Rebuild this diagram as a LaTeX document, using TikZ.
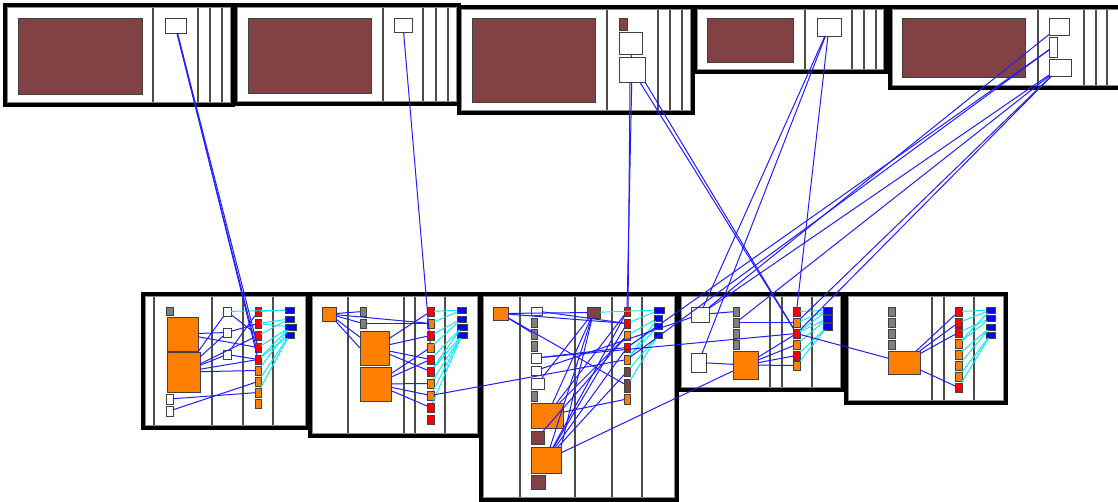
\documentclass[tikz,border=0pt]{standalone}
\definecolor{cBr}{RGB}{128,66,66}
\definecolor{cO}{RGB}{255,128,0}
\definecolor{cR}{RGB}{255,0,0}
\definecolor{cG}{RGB}{128,128,128}
\definecolor{cB}{RGB}{0,0,255}
\definecolor{lnB}{RGB}{30,30,255}
\definecolor{lnC}{RGB}{0,235,255}
\newcommand\mkbox[6]{\node[#6, minimum width={(#4-#2)*0.75pt}, minimum height={(#5-#3)*0.75pt}] (#1) at ({(#2+#4)/2},{(#3+#5)/2}) {};}
\newcommand\mkpanel[5]{%
  \fill[white] (#1,#2) rectangle (#3,#4);
  \foreach \vx in {#5} {\draw[sepline] (\vx,#2) -- (\vx,#4);}
  \draw[inr] (#1+2.6,#2+2.6) rectangle (#3-2.6,#4-2.6);
  \draw[pnl] (#1,#2) rectangle (#3,#4);}
\begin{document}
\begin{tikzpicture}[x=0.75pt,y=-0.75pt,
  pnl/.style={draw=black,line width=2.4pt},
  inr/.style={draw=black!45,line width=0.6pt},
  sepline/.style={draw=black!70,line width=0.85pt},
  itm/.style={draw=black!75,line width=0.7pt,inner sep=0pt,outer sep=0pt,rectangle},
  bl/.style={draw=lnB,line width=0.75pt},
  cy/.style={draw=lnC,line width=0.7pt}]
\useasboundingbox (0,0) rectangle (1118,502);
\fill[white] (0,0) rectangle (1118,502);
% ---------- top panels
\mkpanel{5}{5}{233}{105}{153,198,210,222}
\mkpanel{235}{5}{459}{104}{383,423,436,448}
\mkpanel{459}{7}{693}{113}{607,658,670,682}
\mkpanel{695}{7}{886}{72}{805,852,864,876}
\mkpanel{890}{7}{1124}{88}{1038,1084,1096,1107}
% ---------- bottom panels
\mkpanel{143}{294}{308}{428}{154,212,243,273}
\mkpanel{310}{294}{480}{436}{348,404,415,445}
\mkpanel{481}{294}{677}{500}{520,575,612,642}
\mkpanel{679}{294}{843}{390}{770,782,812}
\mkpanel{846}{294}{1006}{403}{932,944,974}
% ---------- top items
\mkbox{P1br}{18}{18}{142}{94}{itm,fill=cBr}
\mkbox{P1w}{165}{18}{186}{33}{itm,fill=white}
\mkbox{P2br}{248}{18}{371}{93}{itm,fill=cBr}
\mkbox{P2w}{394}{18}{412}{32}{itm,fill=white}
\mkbox{P3br}{472}{18}{595}{102}{itm,fill=cBr}
\mkbox{P3s}{619}{18}{627}{30}{itm,fill=cBr}
\mkbox{P3a}{619}{32}{642}{54}{itm,fill=white}
\mkbox{P3b}{619}{57}{645}{82}{itm,fill=white}
\mkbox{P4br}{707}{18}{793}{62}{itm,fill=cBr}
\mkbox{P4w}{817}{18}{841}{36}{itm,fill=white}
\mkbox{P5br}{902}{18}{1025}{77}{itm,fill=cBr}
\mkbox{P5a}{1049}{18}{1069}{35}{itm,fill=white}
\mkbox{P5b}{1049}{37}{1057}{57}{itm,fill=white}
\mkbox{P5c}{1049}{59}{1071}{76}{itm,fill=white}
% ---------- B1
\mkbox{pg1}{166}{307}{173}{315}{itm,fill=cG}
\mkbox{pO1}{167}{317}{198}{351}{itm,fill=cO}
\mkbox{pO2}{167}{352}{200}{392}{itm,fill=cO}
\mkbox{pw1}{166}{394}{173}{404}{itm,fill=white}
\mkbox{pw2}{166}{406}{173}{416}{itm,fill=white}
\mkbox{pc1}{223}{307}{231}{316}{itm,fill=white}
\mkbox{pc2}{223}{328}{231}{337}{itm,fill=white}
\mkbox{pc3}{223}{350}{231}{359}{itm,fill=white}
\foreach \yy/\cc [count=\i] in {307/R,319/R,331/R,343/R,355/R,366/O,377/O,388/O,399/O}
  {\mkbox{pr\i}{255}{\yy}{261}{\yy+9}{itm,fill=c\cc}}
\foreach \yy/\ww [count=\i] in {307/294,316/294,324/296,332/294}
  {\mkbox{pb\i}{285}{\yy}{\ww}{\yy+6}{itm,fill=cB}}
% ---------- B2
\mkbox{qo0}{322}{307}{336}{321}{itm,fill=cO}
\mkbox{qg1}{360}{307}{366}{316}{itm,fill=cG}
\mkbox{qg2}{360}{319}{366}{328}{itm,fill=cG}
\mkbox{qO1}{360}{331}{389}{365}{itm,fill=cO}
\mkbox{qO2}{360}{367}{391}{401}{itm,fill=cO}
\foreach \yy/\cc [count=\i] in {307/R,319/O,331/R,343/O,355/R,367/R,379/O,391/O,403/R,415/R}
  {\mkbox{qr\i}{427}{\yy}{434}{\yy+9}{itm,fill=c\cc}}
\foreach \yy/\ww [count=\i] in {307/466,316/466,324/467,332/467}
  {\mkbox{qb\i}{457}{\yy}{\ww}{\yy+6}{itm,fill=cB}}
% ---------- B3
\mkbox{so0}{493}{307}{508}{320}{itm,fill=cO}
\mkbox{sw1}{531}{307}{542}{315}{itm,fill=white}
\mkbox{sg1}{531}{318}{537}{327}{itm,fill=cG}
\mkbox{sg2}{531}{329}{537}{339}{itm,fill=cG}
\mkbox{sg3}{531}{341}{537}{351}{itm,fill=cG}
\mkbox{sw2}{531}{353}{541}{363}{itm,fill=white}
\mkbox{sw3}{531}{366}{541}{375}{itm,fill=white}
\mkbox{sw4}{531}{378}{544}{389}{itm,fill=white}
\mkbox{sg4}{531}{391}{537}{401}{itm,fill=cG}
\mkbox{sO1}{531}{403}{563}{428}{itm,fill=cO}
\mkbox{sbr1}{531}{431}{544}{444}{itm,fill=cBr}
\mkbox{sO2}{531}{447}{561}{473}{itm,fill=cO}
\mkbox{sbr2}{531}{475}{545}{489}{itm,fill=cBr}
\mkbox{sbrm}{587}{307}{600}{318}{itm,fill=cBr}
\foreach \yy/\hh/\cc [count=\i] in {307/316/R,319/328/R,331/340/O,343/352/R,355/364/O,367/376/Br,379/392/Br,394/404/O}
  {\mkbox{sr\i}{624}{\yy}{630}{\hh}{itm,fill=c\cc}}
\foreach \yy/\ww [count=\i] in {307/664,315/662,323/662,332/662}
  {\mkbox{sb\i}{654}{\yy}{\ww}{\yy+6}{itm,fill=cB}}
% ---------- B4
\mkbox{tw1}{691}{307}{709}{322}{itm,fill=white}
\mkbox{tw2}{691}{353}{706}{372}{itm,fill=white}
\foreach \yy [count=\i] in {307,318,329,340}
  {\mkbox{tg\i}{733}{\yy}{739}{\yy+9}{itm,fill=cG}}
\mkbox{tO}{733}{351}{758}{379}{itm,fill=cO}
\foreach \yy/\cc [count=\i] in {307/R,318/O,329/R,340/O,351/R,361/O}
  {\mkbox{tr\i}{793}{\yy}{800}{\yy+9}{itm,fill=c\cc}}
\foreach \yy [count=\i] in {307,315,323}
  {\mkbox{tb\i}{823}{\yy}{832}{\yy+7}{itm,fill=cB}}
% ---------- B5
\foreach \yy [count=\i] in {307,318,329,340}
  {\mkbox{ug\i}{888}{\yy}{895}{\yy+9}{itm,fill=cG}}
\mkbox{uO}{888}{351}{920}{374}{itm,fill=cO}
\foreach \yy/\cc [count=\i] in {307/R,318/R,328/R,339/O,350/O,361/O,372/O,383/R}
  {\mkbox{ur\i}{955}{\yy}{962}{\yy+9}{itm,fill=c\cc}}
\foreach \yy [count=\i] in {307,315,324,332}
  {\mkbox{ub\i}{986}{\yy}{995}{\yy+6}{itm,fill=cB}}
% ---------- cyan connectors
\foreach \na/\nb in {pb1/pc1,pb1/pr1,pb2/pr2,pb2/pr3,pb3/pr2,pb3/pr4,pb3/pr5,pb4/pr5,pb3/pr6,pb4/pr7,pb4/pr8,
  qb1/qr1,qb1/qr2,qb2/qr3,qb2/qr4,qb3/qr5,qb3/qr6,qb4/qr6,qb4/qr7,qb4/qr8,qb4/qr9,
  sbrm/sb1,sb1/sr2,sb2/sr3,sb3/sr4,sb3/sr5,sb4/sr6,sb4/sr7,sb2/sr5,
  tb1/tr1,tb1/tr2,tb1/tr3,tb2/tr3,tb2/tr4,tb3/tr5,tb3/tr6,
  ub1/ur1,ub1/ur2,ub2/ur3,ub2/ur4,ub3/ur5,ub3/ur6,ub4/ur7,ub4/ur8,ub1/ur4}
  {\draw[cy] (\na) -- (\nb);}
% ---------- blue connectors
\foreach \na/\nb in {pO1/pc2,pO1/pr4,pO2/pc1,pO2/pc2,pO2/pc3,pO2/pr5,pO2/pr6,pO2/pr3,pw1/pr8,pw2/pr7,pc3/pr5,pc2/pr2,pc3/pr1,pc1/pr3,
  qo0/qg1,qo0/qg2,qo0/qr2,qo0/qO1,qg2/qr2,qO1/qr3,qO1/qr5,qO1/qr6,qO2/qr4,qO2/qr5,qO2/qr7,qO2/qr8,qO2/qr9,qO1/qr1,
  so0/sbrm,so0/sr2,so0/sg2,so0/sr7,sw1/sr2,sw2/sr4,sbrm/sO1,sbrm/sO2,sO1/sr1,sO1/sr3,sO2/sr1,sO2/sr2,sO2/sr4,sO2/sr6,sbr1/sr3,sO1/sr8,sw4/sbrm,
  tw2/tO,tg2/tr2,tO/tr3,tO/tr4,tO/tr5,tO/tr6,tw1/tg1,
  uO/ur1,uO/ur2,uO/ur3,uO/ur8,
  P1w/pr4,P1w/pr5,P2w/qr4,P3a/P3b,P3b/sr1,P3b/tr3,P4w/tw1,P4w/tw2,P4w/tr1,
  P5a/tw1,P5b/sr5,P5b/sr4,P5c/tw1,P5c/tg2,P5c/tr2,P5c/tr3,
  qr8/sr5,sO2/tO,sw3/tw1,sw2/tr3,tr3/uO}
  {\draw[bl] (\na) -- (\nb);}
\draw[bl] (qo0) -- (qO1.west);
\draw[bl] (sbrm) -- (sO2.north east);
\draw[bl] ([xshift=-1.5pt]P3b.south) -- ([xshift=0.8pt]sr1.north);
\draw[bl] (P3b.south east) -- (tr3);
\draw[bl] ([xshift=1pt]P1w.south) -- (pr4.north west);
\end{tikzpicture}
\end{document}
